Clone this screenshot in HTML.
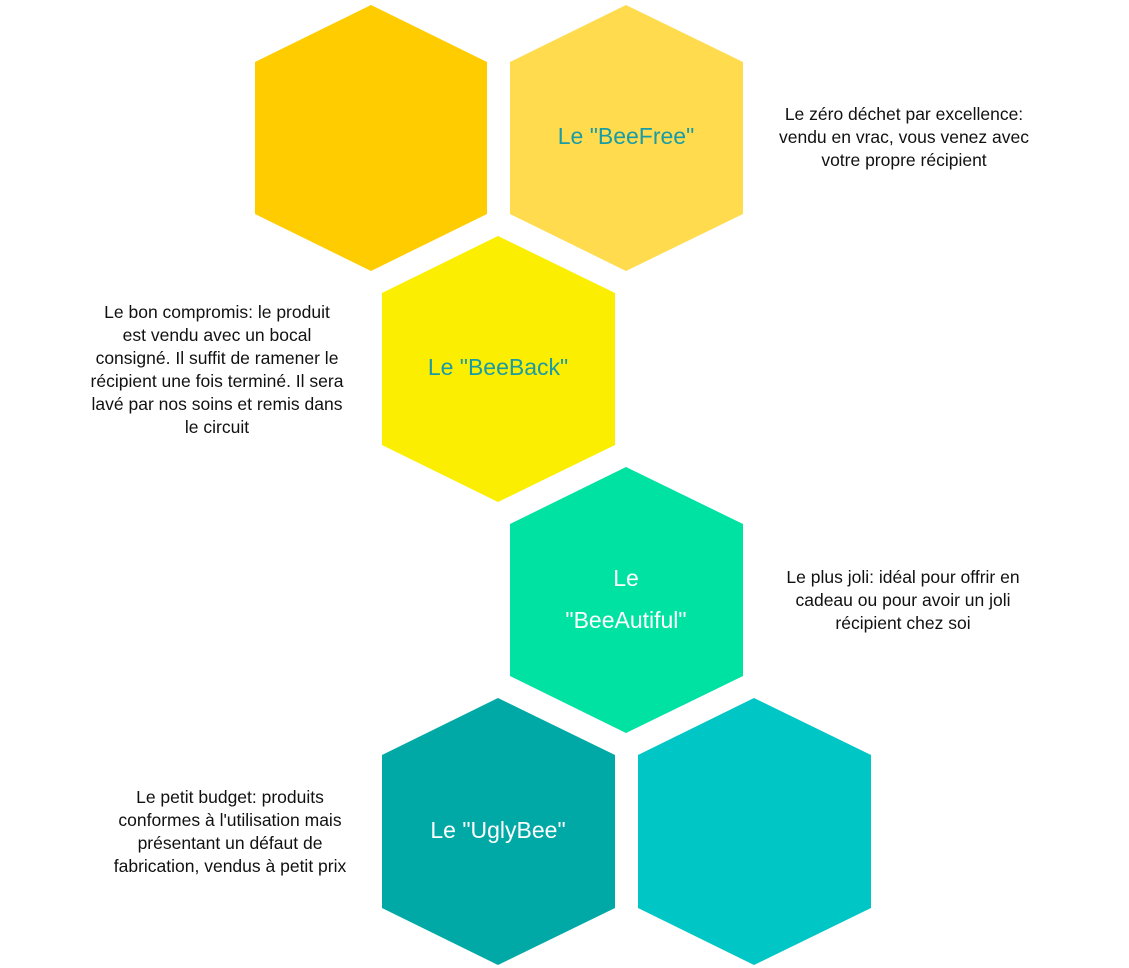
<!DOCTYPE html>
<html><head><meta charset="utf-8"><style>
html,body{margin:0;padding:0;background:#fff;}
svg{display:block;}
text{font-family:"Liberation Sans",sans-serif;}
</style></head><body>
<svg width="1129" height="968" viewBox="0 0 1129 968" xmlns="http://www.w3.org/2000/svg">
<polygon points="371,5 487,62 487,214 371,271 255,214 255,62" fill="#FFCC00"/>
<polygon points="626,5 743,62 743,214 626,271 510,214 510,62" fill="#FFDB4D"/>
<polygon points="498,236 615,293 615,445 498,502 382,445 382,293" fill="#FCEE00"/>
<polygon points="626,467 743,524 743,676 626,733 510,676 510,524" fill="#00E2A2"/>
<polygon points="498,698 615,755 615,908 498,965 382,908 382,755" fill="#00A9A6"/>
<polygon points="754,698 871,755 871,908 754,965 638,908 638,755" fill="#00C6C6"/>
<g font-size="23" text-anchor="middle">
<text x="626" y="144" fill="#1A9CA4">Le "BeeFree"</text>
<text x="498" y="375" fill="#1A9CA4">Le "BeeBack"</text>
<text x="626" y="586" fill="#fff">Le</text>
<text x="626" y="628" fill="#fff">"BeeAutiful"</text>
<text x="498" y="838" fill="#fff">Le "UglyBee"</text>
</g>
<g font-size="17.5" text-anchor="middle" fill="#111">
<text x="904" y="120">Le zéro déchet par excellence:</text>
<text x="904" y="143">vendu en vrac, vous venez avec</text>
<text x="904" y="166">votre propre récipient</text>
<text x="217" y="318">Le bon compromis:  le produit</text>
<text x="217" y="341">est vendu avec un bocal</text>
<text x="217" y="364">consigné. Il suffit de ramener le</text>
<text x="217" y="387">récipient une fois terminé. Il sera</text>
<text x="217" y="410">lavé par nos soins et remis dans</text>
<text x="217" y="433">le circuit</text>
<text x="903" y="583">Le plus joli: idéal pour offrir en</text>
<text x="903" y="606">cadeau ou pour avoir un joli</text>
<text x="903" y="629">récipient chez soi</text>
<text x="230" y="803">Le petit budget: produits</text>
<text x="230" y="826">conformes à l'utilisation mais</text>
<text x="230" y="849">présentant un défaut de</text>
<text x="230" y="872">fabrication, vendus à petit prix</text>
</g>
</svg>
</body></html>
